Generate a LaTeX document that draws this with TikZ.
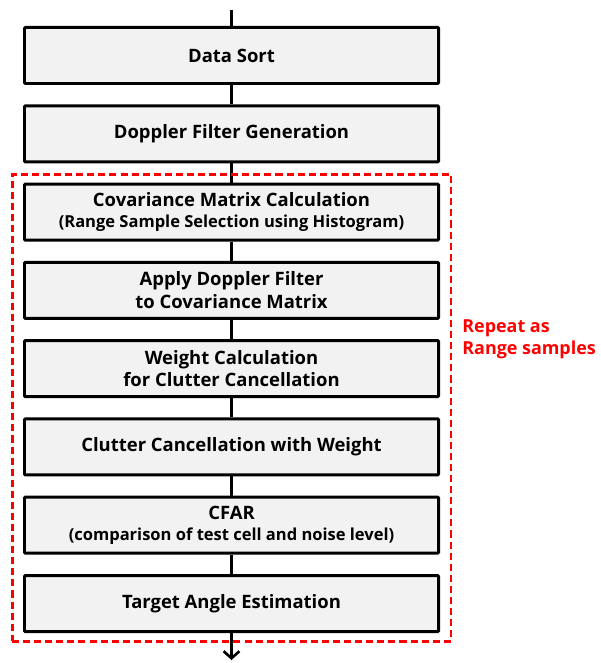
\documentclass[tikz,border=0pt]{standalone}
\usepackage{fontspec}
\setmainfont{Open Sans}
\usetikzlibrary{positioning,fit,arrows.meta}
\newcommand{\FlowGap}{0.386}
\definecolor{boxgray}{HTML}{F2F2F2}
\definecolor{loopred}{HTML}{FF0000}

\begin{document}
\begin{tikzpicture}[
		stepbox/.style={draw=black, line width=1.7pt, fill=boxgray, rounded corners=0.5pt,
			minimum width=8.28cm, minimum height=1.12cm, align=center, inner sep=0pt,
			font=\bfseries\fontsize{10.5}{13}\selectfont},
		link/.style={line width=1.7pt}
	]
		\useasboundingbox (0,0) rectangle (12,-13.26);
		\coordinate (in) at (4.63,-0.2);
		\node[stepbox] (sort) at (4.63,-1.11) {Data Sort};
		\node[stepbox, below=\FlowGap cm of sort] (dopgen) {Doppler Filter Generation};
		\node[stepbox, below=\FlowGap cm of dopgen] (cov) {Covariance Matrix Calculation\\[-1pt]{\bfseries\fontsize{9.4}{10}\selectfont (Range Sample Selection using Histogram)}};
		\node[stepbox, below=\FlowGap cm of cov] (apply) {Apply Doppler Filter\\to Covariance Matrix};
		\node[stepbox, below=\FlowGap cm of apply] (weight) {Weight Calculation\\for Clutter Cancellation};
		\node[stepbox, below=\FlowGap cm of weight] (cancel) {Clutter Cancellation with Weight};
		\node[stepbox, below=\FlowGap cm of cancel] (cfar) {CFAR\\[-1pt]{\bfseries\fontsize{9.4}{10}\selectfont (comparison of test cell and noise level)}};
		\node[stepbox, below=\FlowGap cm of cfar] (angle) {Target Angle Estimation};
		\coordinate (out) at (4.63,-13.2);
		% connectors
		\draw[link] (in) -- (sort);
		\foreach \a/\b in {sort/dopgen, dopgen/cov, cov/apply, apply/weight, weight/cancel, cancel/cfar, cfar/angle}
			\draw[link] (\a) -- (\b);
		\draw[link, -{Straight Barb[length=4pt, width=9pt, line width=1.5pt]}] (angle) -- (out);
		% repeat loop
		\node[draw=loopred, line width=1.7pt, dash pattern=on 4pt off 2.3pt, inner xsep=0.22cm, inner ysep=0.16cm, fit=(cov)(angle)] (loop) {};
		\node[anchor=west, align=left, inner sep=0pt, text=loopred, font=\bfseries\fontsize{10.2}{12.5}\selectfont] (looplabel) at (9.24,-6.78) {Repeat as\\Range samples};
	\end{tikzpicture}
\end{document}
